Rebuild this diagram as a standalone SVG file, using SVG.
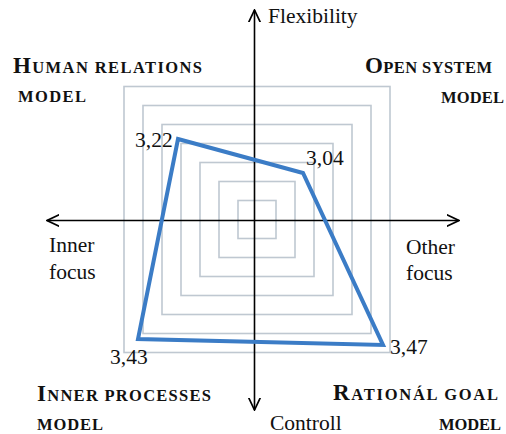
<svg xmlns="http://www.w3.org/2000/svg" width="506" height="434" viewBox="0 0 506 434">
<style>
.t{font-family:"Liberation Serif","Times New Roman",serif;font-size:21.5px;fill:#111}
.h{font-family:"Liberation Serif","Times New Roman",serif;font-weight:bold;font-size:16.5px;fill:#111}
.b{font-size:23px}
.sq{fill:none;stroke:#bfc8d1;stroke-width:1.6}
.ax{stroke:#000;stroke-width:1.6;fill:none}
</style>
<defs>
<marker id="arr" viewBox="0 0 10 10" refX="9.5" refY="5" markerUnits="userSpaceOnUse" markerWidth="13" markerHeight="13" orient="auto-start-reverse">
<path d="M0,0.5 L9.5,5 L0,9.5" fill="none" stroke="#000" stroke-width="1.3"/>
</marker>
</defs>
<rect width="506" height="434" fill="#fff"/>
<g id="grid">
<rect class="sq" x="238" y="200.5" width="38" height="38"/>
<rect class="sq" x="219" y="181.5" width="76" height="76"/>
<rect class="sq" x="200" y="162.5" width="114" height="114"/>
<rect class="sq" x="181" y="143.5" width="152" height="152"/>
<rect class="sq" x="162" y="124.5" width="190" height="190"/>
<rect class="sq" x="143" y="105.5" width="228" height="228"/>
<rect class="sq" x="124" y="86.5" width="266" height="266"/>
</g>
<g id="connectors">
<line class="ax" x1="254.5" y1="410" x2="254.5" y2="10" marker-start="url(#arr)" marker-end="url(#arr)"/>
<line class="ax" x1="47" y1="220.5" x2="459" y2="220.5" marker-start="url(#arr)" marker-end="url(#arr)"/>
</g>
<g id="data">
<polygon points="178,139 303,173 383,345 138,339" fill="none" stroke="#3b7cc6" stroke-width="4" stroke-linejoin="miter"/>
<text class="t" x="135" y="147">3,22</text>
<text class="t" x="306" y="165">3,04</text>
<text class="t" x="390" y="354">3,47</text>
<text class="t" x="110" y="364">3,43</text>
</g>
<g id="axis-labels">
<text class="t" x="268" y="23">Flexibility</text>
<text class="t" x="49" y="252">Inner</text>
<text class="t" x="49" y="279">focus</text>
<text class="t" x="406" y="254">Other</text>
<text class="t" x="406" y="280">focus</text>
<text class="t" x="270" y="430">Controll</text>
</g>
<g id="human-relations">
<text class="h" x="13" y="73" textLength="189" lengthAdjust="spacing"><tspan class="b">H</tspan>UMAN RELATIONS</text>
<text class="h" x="18" y="102" textLength="68" lengthAdjust="spacing">MODEL</text>
</g>
<g id="open-system">
<text class="h" x="365" y="73" textLength="127" lengthAdjust="spacing"><tspan class="b">O</tspan>PEN SYSTEM</text>
<text class="h" x="441" y="103" textLength="63" lengthAdjust="spacing">MODEL</text>
</g>
<g id="inner-processes">
<text class="h" x="37" y="401" textLength="174" lengthAdjust="spacing"><tspan class="b">I</tspan>NNER PROCESSES</text>
<text class="h" x="37" y="430" textLength="66" lengthAdjust="spacing">MODEL</text>
</g>
<g id="rational-goal">
<text class="h" x="333" y="400" textLength="165" lengthAdjust="spacing"><tspan class="b">R</tspan>ATIONÁL GOAL</text>
<text class="h" x="439" y="430" textLength="62" lengthAdjust="spacing">MODEL</text>
</g>
</svg>
